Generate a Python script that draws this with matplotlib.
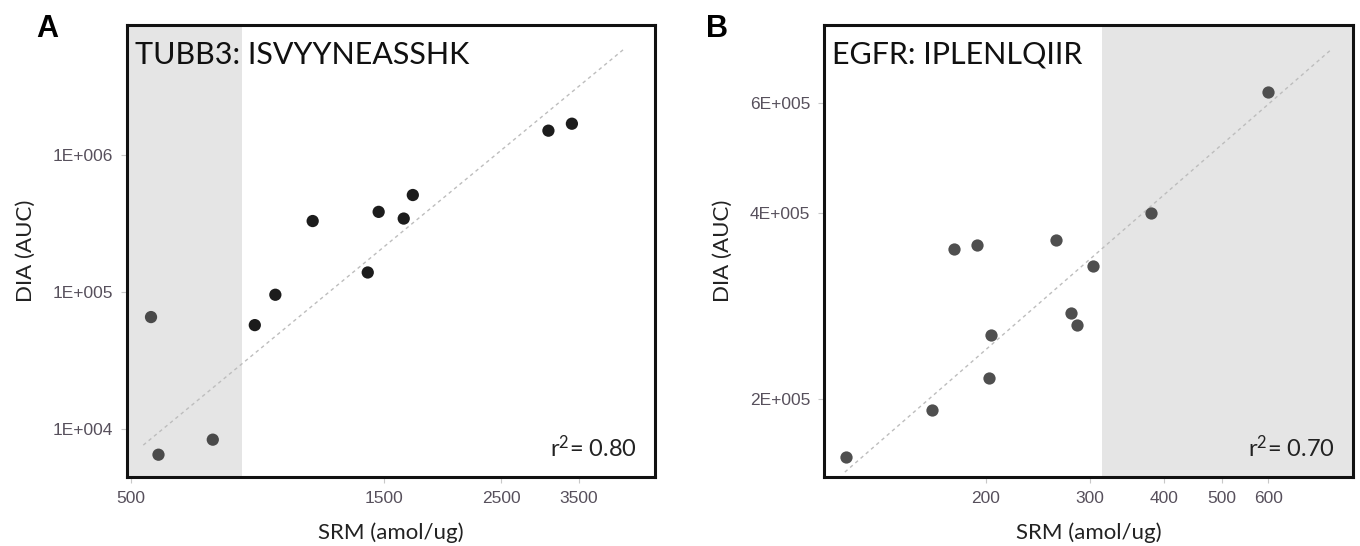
import matplotlib
matplotlib.use('Agg')
import matplotlib.pyplot as plt
from matplotlib.ticker import FixedLocator, FixedFormatter, NullLocator

plt.rcParams['mathtext.fontset'] = 'custom'
plt.rcParams['mathtext.rm'] = 'Lato'
plt.rcParams['mathtext.it'] = 'Lato'

# Panel A: TUBB3
a_srm = [545, 563, 713, 856, 936, 1101, 1399, 1467, 1636, 1702, 3070, 3400]
a_dia = [65700, 6500, 8370, 57400, 95600, 330000, 139000, 385000, 344000, 511000, 1507000, 1694000]
a_fit_x = [527, 4265]
a_fit_y = [7640, 5.94e6]
a_shade = [491, 810]
a_xticks = [500, 1500, 2500, 3500]
a_yticks = [1e4, 1e5, 1e6]
a_ylabels = ['1E+004', '1E+005', '1E+006']

# Panel B: EGFR
b_srm = [116, 162, 176.6, 193.1, 202.3, 203.9, 262.6, 278.4, 285, 303.3, 380.2, 599.2]
b_dia = [161500, 192300, 349300, 354500, 216200, 253700, 361200, 275300, 263300, 327900, 399300, 626100]
b_fit_x = [115.5, 764.6]
b_fit_y = [152460, 731900]
b_shade = [314, 834]
b_xticks = [200, 300, 400, 500, 600]
b_yticks = [2e5, 4e5, 6e5]
b_ylabels = ['2E+005', '4E+005', '6E+005']

TICK_COLOR = '#57505c'
SHADE = '#e5e5e5'

fig = plt.figure(figsize=(13.6, 5.46), dpi=100)
ax_a = fig.add_axes([0.0934, 0.1264, 0.3882, 0.8278])
ax_b = fig.add_axes([0.6059, 0.1264, 0.3890, 0.8278])


def style_axes(ax, xlim, ylim, xticks, yticks, ylabels, title, r2):
    ax.set_xscale('log')
    ax.set_yscale('log')
    ax.set_xlim(*xlim)
    ax.set_ylim(*ylim)
    ax.xaxis.set_major_locator(FixedLocator(xticks))
    ax.xaxis.set_major_formatter(FixedFormatter([str(t) for t in xticks]))
    ax.yaxis.set_major_locator(FixedLocator(yticks))
    ax.yaxis.set_major_formatter(FixedFormatter(ylabels))
    ax.xaxis.set_minor_locator(NullLocator())
    ax.yaxis.set_minor_locator(NullLocator())
    ax.tick_params(axis='both', length=4, width=0.8, color='#c8c8c8',
                   labelcolor=TICK_COLOR, labelsize=12.5, pad=6)
    for lab in ax.get_xticklabels() + ax.get_yticklabels():
        lab.set_family('Liberation Sans')
    for sp in ax.spines.values():
        sp.set_linewidth(2.2)
        sp.set_color('#111111')
    ax.set_xlabel('SRM (amol/ug)', fontsize=16, family='Lato', labelpad=12, color='#222222')
    ax.set_ylabel('DIA (AUC)', fontsize=16, family='Lato', labelpad=12, color='#222222')
    ax.text(0.016, 0.965, title, transform=ax.transAxes, ha='left', va='top',
            fontsize=22, family='Lato', color='#111111')
    ax.text(0.966, 0.045, r'$\mathrm{r}^{2}$= ' + r2, transform=ax.transAxes, ha='right',
            va='baseline', fontsize=17, family='Lato', color='#222222')


# Panel A
ax_a.axvspan(a_shade[0], a_shade[1], color=SHADE, lw=0, zorder=0)
ax_a.plot(a_fit_x, a_fit_y, ls=(0, (2.5, 2.5)), color='#bdbdbd', lw=1, zorder=1)
a_colors = ['#4a4a4a' if x < a_shade[1] else '#1c1c1c' for x in a_srm]
ax_a.scatter(a_srm, a_dia, s=78, c=a_colors, lw=0, zorder=3)
style_axes(ax_a, (491, 4880), (4470, 8.9e6), a_xticks, a_yticks, a_ylabels,
           'TUBB3: ISVYYNEASSHK', '0.80')

# Panel B
ax_b.axvspan(b_shade[0], b_shade[1], color=SHADE, lw=0, zorder=0)
ax_b.plot(b_fit_x, b_fit_y, ls=(0, (2.5, 2.5)), color='#bdbdbd', lw=1, zorder=1)
ax_b.scatter(b_srm, b_dia, s=78, c='#4f4f4f', lw=0, zorder=3)
style_axes(ax_b, (106.5, 834), (1.497e5, 8.03e5), b_xticks, b_yticks, b_ylabels,
           'EGFR: IPLENLQIIR', '0.70')

fig.text(0.027, 0.975, 'A', fontsize=22, fontweight='bold', family='Liberation Sans',
         ha='left', va='top')
fig.text(0.519, 0.975, 'B', fontsize=22, fontweight='bold', family='Liberation Sans',
         ha='left', va='top')

fig.savefig('out.png', dpi=100)
